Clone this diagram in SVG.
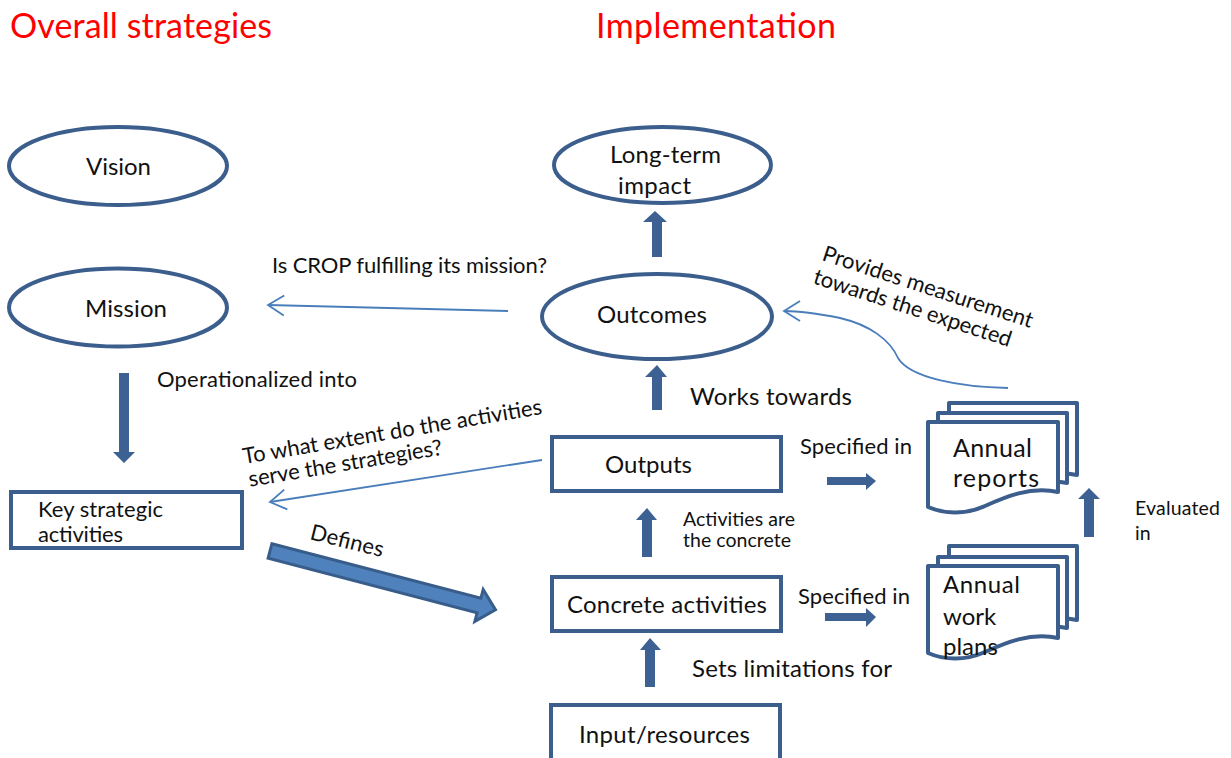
<svg xmlns="http://www.w3.org/2000/svg" width="1231" height="758" viewBox="0 0 1231 758">
<style>
text{font-family:Lato,"Liberation Sans",sans-serif;fill:#111}
.hd{font-size:34px;fill:#FF0000}
.n{fill:#fff;stroke:#3B5E8C;stroke-width:4}
.doc{fill:#fff;stroke:#3B5E8C;stroke-width:4;stroke-linejoin:round}
.blk{fill:#3C6192;stroke:none}
.thin{fill:none;stroke:#4A7EBB;stroke-width:1.8}
.t24{font-size:24px}
.t22{font-size:22px}
.t19{font-size:19.5px}
.t25{font-size:25px}
</style>
<defs>
<marker id="open" markerUnits="userSpaceOnUse" markerWidth="30" markerHeight="30" refX="0" refY="0" viewBox="-20 -15 30 30" orient="auto">
<path d="M-16,-10 L0,0 L-16,10" fill="none" stroke="#4A7EBB" stroke-width="1.8"/>
</marker>
</defs>

<text class="hd" x="10" y="38" textLength="262">Overall strategies</text>
<text class="hd" x="596" y="38" textLength="240">Implementation</text>

<g id="vision">
<ellipse class="n" cx="118" cy="166" rx="109" ry="39"/>
<text class="t24" x="86" y="175" textLength="65">Vision</text>
</g>
<g id="mission">
<ellipse class="n" cx="118" cy="307.5" rx="109" ry="39"/>
<text class="t24" x="85" y="317" textLength="82">Mission</text>
</g>
<g id="key">
<rect class="n" x="11" y="492" width="231" height="56"/>
<text class="t22" x="38" y="517" textLength="125">Key strategic</text>
<text class="t22" x="38" y="542" textLength="85">activities</text>
</g>
<g id="longterm">
<ellipse class="n" cx="662.5" cy="165" rx="108.5" ry="38"/>
<text class="t24" x="610" y="163" textLength="111">Long-term</text>
<text class="t24" x="618" y="194" textLength="73">impact</text>
</g>
<g id="outcomes">
<ellipse class="n" cx="657" cy="316.5" rx="115" ry="42.5"/>
<text class="t24" x="597" y="323" textLength="110">Outcomes</text>
</g>
<g id="outputs">
<rect class="n" x="552" y="437" width="229" height="54"/>
<text class="t24" x="605" y="473" textLength="87">Outputs</text>
</g>
<g id="concrete">
<rect class="n" x="552" y="577" width="229" height="54"/>
<text class="t24" x="567" y="613" textLength="200">Concrete activities</text>
</g>
<g id="input">
<rect class="n" x="551" y="705" width="229" height="62"/>
<text class="t24" x="579" y="743" textLength="171">Input/resources</text>
</g>
<g id="reports">
<path class="doc" d="M949,403 H1077 V475 C1049,469 1024,480 1004,489 C984,498 964,497 949,490 Z"/>
<path class="doc" d="M938,413 H1067 V483 C1039,477 1014,488 994,497 C974,506 953,505 938,498 Z"/>
<path class="doc" d="M928,422 H1058 V492 C1030,486 1005,497 985,506 C965,515 944,514 928,507 Z"/>
<text class="t25" x="953" y="457" textLength="79">Annual</text>
<text class="t25" x="953" y="487" textLength="86">reports</text>
</g>
<g id="workplans">
<path class="doc" d="M949,546 H1077 V620 C1049,614 1024,625 1004,634 C984,643 964,642 949,635 Z"/>
<path class="doc" d="M938,557 H1067 V628 C1039,622 1014,633 994,642 C974,651 953,650 938,643 Z"/>
<path class="doc" d="M928,566 H1058 V638 C1030,632 1005,643 985,652 C965,661 944,660 928,653 Z"/>
<text class="t24" x="943" y="593" textLength="77">Annual</text>
<text class="t24" x="943" y="625">work</text>
<text class="t24" x="943" y="655">plans</text>
</g>

<g id="connectors">
<polygon class="blk" points="119,373 129,373 129,452 135,452 124,463 113,452 119,452"/>
<polygon class="blk" points="652,257 662,257 662,222 667,222 655,211 643,222 652,222"/>
<polygon class="blk" points="652,410 662,410 662,377 667,377 657,365 645,377 652,377"/>
<polygon class="blk" points="642,557 652,557 652,520 657,520 647,508 636,520 642,520"/>
<polygon class="blk" points="645,687 655,687 655,650 661,650 650,638 640,650 645,650"/>
<polygon class="blk" points="1084,537 1094,537 1094,499 1100,499 1089,488 1078,499 1084,499"/>
<polygon class="blk" points="827,477 866,477 866,473 876,481 866,490 866,485 827,485"/>
<polygon class="blk" points="825,613 866,613 866,608 876,617 866,627 866,621 825,621"/>
<polygon points="0,-7.5 216,-7.5 216,-16.5 233,0 216,16.5 216,7.5 0,7.5" transform="translate(270,551) rotate(14.6)" fill="#4F81BD" stroke="#385D8A" stroke-width="3" stroke-linejoin="miter"/>
<line class="thin" x1="508" y1="311" x2="268" y2="305" marker-end="url(#open)"/>
<line class="thin" x1="542" y1="460" x2="270" y2="502" marker-end="url(#open)"/>
<path class="thin" d="M1008,388 C960,387 910,378 898,358 C890,340 870,325 840,318 C815,313 800,311 784,311" marker-end="url(#open)"/>
</g>

<g id="labels">
<text class="t22" x="272" y="273" textLength="275">Is CROP fulfilling its mission?</text>
<text class="t22" x="157" y="387" textLength="200">Operationalized into</text>
<text class="t24" x="690" y="405" textLength="162">Works towards</text>
<text class="t22" x="800" y="454" textLength="112">Specified in</text>
<text class="t22" x="798" y="604" textLength="112">Specified in</text>
<text class="t19" x="683" y="526" textLength="112">Activities are</text>
<text class="t19" x="683" y="547" textLength="108">the concrete</text>
<text class="t19" x="1135" y="515" textLength="85">Evaluated</text>
<text class="t19" x="1135" y="540">in</text>
<text class="t24" x="692" y="677" textLength="200">Sets limitations for</text>
<text class="t22" transform="translate(309,539) rotate(14)" textLength="75">Defines</text>
<g transform="translate(244,464) rotate(-9.5)">
<text class="t22" x="0" y="0" textLength="303">To what extent do the activities</text>
<text class="t22" x="2" y="23.5" textLength="196">serve the strategies?</text>
</g>
<g transform="translate(821,260) rotate(18)">
<text class="t22" x="0" y="0" textLength="220">Provides measurement</text>
<text class="t22" x="-1.5" y="24.7" textLength="207">towards the expected</text>
</g>
</g>
</svg>
